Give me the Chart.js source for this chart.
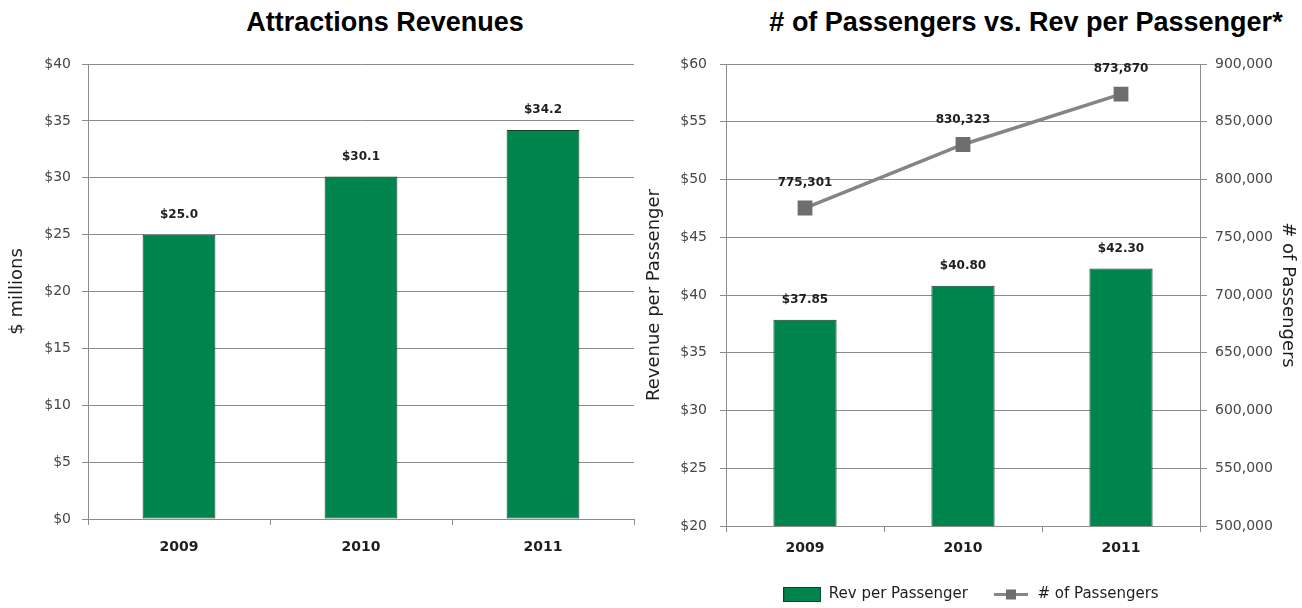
<!DOCTYPE html>
<html>
<head>
<meta charset="utf-8">
<title>Attractions Revenues and Passengers</title>
<script src="https://cdn.jsdelivr.net/npm/chart.js@4.4.1/dist/chart.umd.min.js"></script>
<style>
  html, body { margin: 0; padding: 0; background: #fff; overflow: hidden; }
  body { width: 1302px; height: 608px; position: relative; }
  .chart-title {
    position: absolute; top: 7px; transform: translateX(-50%);
    font: bold 27px "Liberation Sans", Arial, sans-serif; line-height: 30px;
    color: #000; white-space: nowrap;
  }
  canvas { position: absolute; top: 0; }
</style>
</head>
<body>
<div class="chart-title" style="left:385px">Attractions Revenues</div>
<div class="chart-title" style="left:1026px"># of Passengers vs. Rev per Passenger*</div>
<canvas id="revenueChart" width="640" height="608" style="left:0"></canvas>
<canvas id="passengerChart" width="662" height="612" style="left:640px"></canvas>
<script>
// Data
const years = ['2009', '2010', '2011'];
const attractionRevenue = [25.0, 30.1, 34.2];        // $ millions
const revPerPassenger = [37.85, 40.80, 42.30];       // $ per passenger
const passengerCounts = [775301, 830323, 873870];

const revenueTicks = [0, 5, 10, 15, 20, 25, 30, 35, 40];
const revPerPassengerTicks = [20, 25, 30, 35, 40, 45, 50, 55, 60];
const passengerTicks = [500000, 550000, 600000, 650000, 700000, 750000, 800000, 850000, 900000];

// Styling
const FONT = "'DejaVu Sans', sans-serif";
const GREEN = '#00844e';
const BAR_EDGE = '#153d29';
const GRID = '#8c8c8c';
const LINE_GRAY = '#858585';
const MARKER_GRAY = '#6e6e6e';
const TICK_TEXT = '#474747';
const DARK_TEXT = '#1e1e1e';

const tickFont = { family: FONT, size: 14 };
const categoryFont = { family: FONT, size: 14, weight: 'bold' };
const axisTitleFont = { family: FONT, size: 18 };

// fixed ticks taken straight from the arrays above
function useTicks(values) {
    return scale => { scale.ticks = values.map(v => ({ value: v })); };
}

// Draws each dataset's values above its bars / points
const valueLabels = {
    id: 'valueLabels',
    afterDatasetsDraw(chart) {
        const ctx = chart.ctx;
        chart.data.datasets.forEach((ds, i) => {
            if (!ds.valueLabel) return;
            const meta = chart.getDatasetMeta(i);
            ctx.save();
            ctx.font = 'bold 12px ' + FONT;
            ctx.fillStyle = DARK_TEXT;
            ctx.textAlign = 'center';
            ctx.textBaseline = 'middle';
            meta.data.forEach((el, j) => {
                const pos = el.getProps(['x', 'y'], true);
                ctx.fillText(ds.valueLabel(ds.data[j]), pos.x, pos.y - ds.valueLabelOffset);
            });
            ctx.restore();
        });
    }
};

// Legend swatches: filled bar and line-with-square marker
function legendSwatch(draw) {
    const c = document.createElement('canvas');
    c.width = 38;
    c.height = 15;
    draw(c.getContext('2d'));
    return c;
}
const barSwatch = legendSwatch(g => {
    g.fillStyle = GREEN;
    g.fillRect(0.5, 0.5, 37, 14);
    g.strokeStyle = BAR_EDGE;
    g.lineWidth = 1;
    g.strokeRect(0.5, 0.5, 37, 14);
});
const lineSwatch = legendSwatch(g => {
    g.strokeStyle = LINE_GRAY;
    g.lineWidth = 3;
    g.beginPath();
    g.moveTo(2, 7.5);
    g.lineTo(36, 7.5);
    g.stroke();
    g.fillStyle = MARKER_GRAY;
    g.fillRect(14, 2.5, 10, 10);
});

function yAxis(ticks, format, title, opts) {
    return {
        position: opts.position,
        min: ticks[0],
        max: ticks[ticks.length - 1],
        afterBuildTicks: useTicks(ticks),
        grid: {
            color: GRID,
            tickLength: opts.tickLength,
            drawOnChartArea: opts.gridLines
        },
        border: { color: GRID },
        ticks: {
            callback: format,
            color: TICK_TEXT,
            font: tickFont,
            padding: opts.tickPadding
        },
        title: {
            display: true,
            text: title,
            color: DARK_TEXT,
            font: axisTitleFont,
            padding: { top: opts.titlePadding, bottom: 0 }
        },
        afterFit: scale => { scale.width = opts.width; }
    };
}

function xAxis(height, padding) {
    return {
        grid: {
            display: true,
            drawOnChartArea: false,
            color: GRID,
            tickLength: 6,
            offset: true
        },
        border: { color: GRID },
        ticks: { color: DARK_TEXT, font: categoryFont, padding: padding },
        afterFit: scale => { scale.height = height; }
    };
}

const dollars = v => '$' + v;
const thousands = v => v.toLocaleString('en-US');

// Attractions revenues (bar)
new Chart(document.getElementById('revenueChart'), {
    type: 'bar',
    data: {
        labels: years,
        datasets: [{
            label: 'Attractions Revenues',
            data: attractionRevenue,
            backgroundColor: GREEN,
            borderColor: BAR_EDGE,
            borderWidth: 1,
            borderSkipped: false,
            categoryPercentage: 1,
            barPercentage: 0.4,
            valueLabel: v => '$' + v.toFixed(1),
            valueLabelOffset: 20
        }]
    },
    options: {
        responsive: false,
        animation: false,
        devicePixelRatio: 1,
        layout: { padding: { top: 64, right: 6, left: 0, bottom: 0 } },
        plugins: {
            legend: { display: false },
            tooltip: { enabled: false }
        },
        scales: {
            x: xAxis(89, 14),
            y: yAxis(revenueTicks, dollars, '$ millions', {
                position: 'left', tickLength: 6, gridLines: true,
                tickPadding: 11, titlePadding: 7, width: 88
            })
        }
    },
    plugins: [valueLabels]
});

// Passengers vs revenue per passenger (bar + line on second axis)
new Chart(document.getElementById('passengerChart'), {
    type: 'bar',
    data: {
        labels: years,
        datasets: [{
            type: 'bar',
            label: 'Rev per Passenger',
            data: revPerPassenger,
            yAxisID: 'y',
            backgroundColor: GREEN,
            borderColor: BAR_EDGE,
            borderWidth: 1,
            borderSkipped: false,
            categoryPercentage: 1,
            barPercentage: 0.4,
            order: 1,
            valueLabel: v => '$' + v.toFixed(2),
            valueLabelOffset: 20
        }, {
            type: 'line',
            label: '# of Passengers',
            data: passengerCounts,
            yAxisID: 'y1',
            borderColor: LINE_GRAY,
            borderWidth: 3.5,
            tension: 0,
            pointStyle: 'rect',
            pointRadius: 8,
            pointBackgroundColor: MARKER_GRAY,
            pointBorderColor: MARKER_GRAY,
            order: 0,
            valueLabel: v => thousands(v),
            valueLabelOffset: 25
        }]
    },
    options: {
        responsive: false,
        animation: false,
        devicePixelRatio: 1,
        layout: { padding: { top: 64, right: 0, left: 0, bottom: 0 } },
        plugins: {
            tooltip: { enabled: false },
            legend: {
                position: 'bottom',
                labels: {
                    usePointStyle: true,
                    pointStyleWidth: 38,
                    boxHeight: 15,
                    padding: 24,
                    color: DARK_TEXT,
                    font: { family: FONT, size: 15 },
                    sort: (a, b) => a.datasetIndex - b.datasetIndex,
                    generateLabels(chart) {
                        const items = Chart.defaults.plugins.legend.labels.generateLabels(chart);
                        items.forEach(item => {
                            item.pointStyle = item.datasetIndex === 0 ? barSwatch : lineSwatch;
                        });
                        return items;
                    }
                }
            }
        },
        scales: {
            x: xAxis(37, 8),
            y: yAxis(revPerPassengerTicks, dollars, 'Revenue per Passenger', {
                position: 'left', tickLength: 6, gridLines: true,
                tickPadding: 13, titlePadding: 4, width: 86
            }),
            y1: yAxis(passengerTicks, thousands, '# of Passengers', {
                position: 'right', tickLength: 7, gridLines: false,
                tickPadding: 8, titlePadding: 4, width: 102
            })
        }
    },
    plugins: [valueLabels]
});
</script>
</body>
</html>
